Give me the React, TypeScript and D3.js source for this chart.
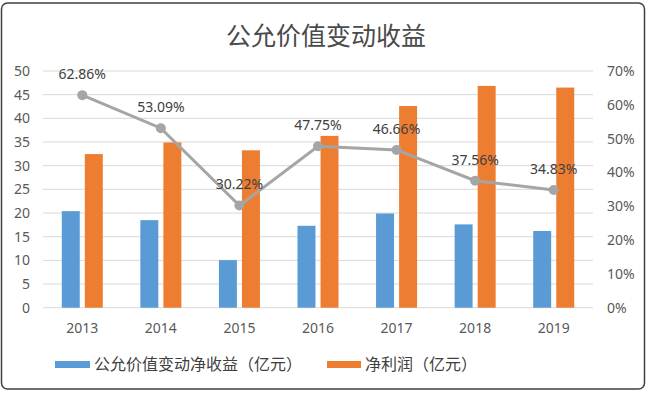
import * as d3 from "d3"

const years = ["2013", "2014", "2015", "2016", "2017", "2018", "2019"]
const fairValueGain = [20.4, 18.5, 10.05, 17.3, 19.9, 17.6, 16.2]
const netProfit = [32.45, 34.9, 33.25, 36.3, 42.6, 46.85, 46.5]
const gainRatio = [62.86, 53.09, 30.22, 47.75, 46.66, 37.56, 34.83]
const leftTicks = [0, 5, 10, 15, 20, 25, 30, 35, 40, 45, 50]
const rightTicks = [0, 10, 20, 30, 40, 50, 60, 70]
const seriesNames = ["公允价值变动净收益（亿元）", "净利润（亿元）"]

const W = 650
const H = 396
const FONT = "'Noto Sans', 'Noto Sans CJK SC', sans-serif"
const BLUE = "#5b9bd5"
const ORANGE = "#ed7d31"
const GRAY = "#a5a5a5"
const TEXT = "#595959"

const App = () => {
  const margin = { left: 43, right: 593, top: 71, bottom: 307.7 }

  const x0 = d3
    .scaleBand()
    .domain(years)
    .range([margin.left, margin.right])
    .paddingInner(0.478)
    .paddingOuter(0.239)

  const x1 = d3
    .scaleBand()
    .domain(["gain", "profit"])
    .range([0, x0.bandwidth()])
    .paddingInner(0.22)

  const yL = d3.scaleLinear().domain([0, 50]).range([margin.bottom, margin.top])
  const yR = d3.scaleLinear().domain([0, 70]).range([margin.bottom, margin.top])

  const cx = (year: string) => x0(year)! + x0.bandwidth() / 2

  const linePath = d3
    .line<number>()
    .x((_, i) => cx(years[i]))
    .y((d) => yR(d))(gainRatio)

  return (
    <svg
      width={W}
      height={H}
      style={{ position: "absolute", left: 0, top: 0, background: "#fff" }}
      fontFamily={FONT}
    >
      <rect x={0} y={0} width={W} height={H} fill="#fff" />
      <rect
        x={1.5}
        y={3}
        width={643}
        height={386}
        rx={6}
        fill="#fff"
        stroke="#404040"
        strokeWidth={1.5}
      />

      {/* title */}
      <text
        x={326}
        y={35}
        textAnchor="middle"
        dominantBaseline="central"
        fontSize={25}
        fill="#4a4a4a"
      >
        公允价值变动收益
      </text>

      {/* gridlines */}
      {leftTicks.map((t) => (
        <line
          key={t}
          x1={margin.left}
          x2={margin.right}
          y1={yL(t)}
          y2={yL(t)}
          stroke="#d9d9d9"
          strokeWidth={1}
        />
      ))}

      {/* left axis */}
      {leftTicks.map((t) => (
        <text
          key={t}
          x={30}
          y={yL(t)}
          dy="0.35em"
          textAnchor="end"
          fontSize={14}
          fill={TEXT}
        >
          {t}
        </text>
      ))}

      {/* right axis */}
      {rightTicks.map((t) => (
        <text
          key={t}
          x={607}
          y={yR(t)}
          dy="0.35em"
          textAnchor="start"
          fontSize={14}
          fill={TEXT}
        >
          {t}%
        </text>
      ))}

      {/* x axis labels */}
      {years.map((yr) => (
        <text
          key={yr}
          x={cx(yr)}
          y={328}
          dy="0.35em"
          textAnchor="middle"
          fontSize={14}
          fill={TEXT}
        >
          {yr}
        </text>
      ))}

      {/* bars */}
      {years.map((yr, i) => (
        <g key={yr}>
          <rect
            x={x0(yr)! + x1("gain")!}
            y={yL(fairValueGain[i])}
            width={x1.bandwidth()}
            height={yL(0) - yL(fairValueGain[i])}
            fill={BLUE}
          />
          <rect
            x={x0(yr)! + x1("profit")!}
            y={yL(netProfit[i])}
            width={x1.bandwidth()}
            height={yL(0) - yL(netProfit[i])}
            fill={ORANGE}
          />
        </g>
      ))}

      {/* ratio line */}
      <path d={linePath ?? ""} fill="none" stroke={GRAY} strokeWidth={3} />
      {gainRatio.map((v, i) => (
        <circle key={i} cx={cx(years[i])} cy={yR(v)} r={5} fill={GRAY} />
      ))}
      {gainRatio.map((v, i) => (
        <text
          key={i}
          x={cx(years[i])}
          y={yR(v) - 21}
          dy="0.35em"
          textAnchor="middle"
          fontSize={14}
          fill="#404040"
        >
          {v.toFixed(2)}%
        </text>
      ))}

      {/* legend */}
      <rect x={55} y={361} width={35} height={7} fill={BLUE} />
      <text x={94} y={364.5} dy="0.35em" fontSize={16} fill="#404040">
        {seriesNames[0]}
      </text>
      <rect x={327} y={361} width={34} height={7} fill={ORANGE} />
      <text x={365} y={364.5} dy="0.35em" fontSize={16} fill="#404040">
        {seriesNames[1]}
      </text>
    </svg>
  )
}

export default App
